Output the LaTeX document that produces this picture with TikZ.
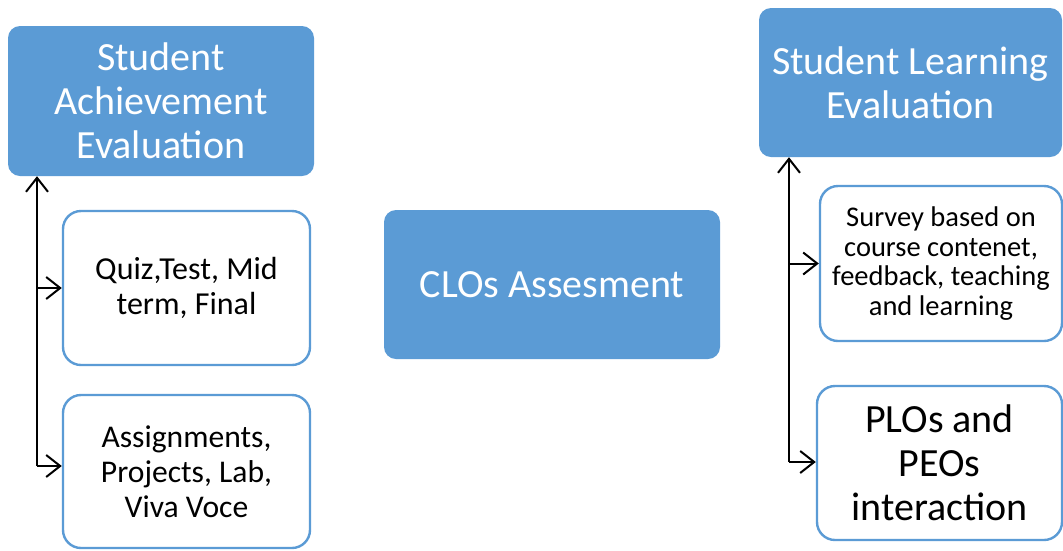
\documentclass[tikz,border=0pt]{standalone}
\usepackage{fontspec}
\setmainfont{Carlito}
\usetikzlibrary{arrows.meta}
\definecolor{boxblue}{HTML}{5B9BD5}
\begin{document}
\begin{tikzpicture}[x=1pt,y=-1pt,
  headbox/.style={fill=boxblue, rounded corners=12pt, text=white, align=center,
    font=\fontsize{40}{44}\selectfont, inner sep=0pt},
  itembox/.style={draw=boxblue, line width=2.4pt, fill=white, rounded corners=18pt,
    align=center, inner sep=0pt},
  arr/.style={-{Straight Barb[length=14pt,width=22pt,line width=2pt]}, line width=2pt}]
\useasboundingbox (0,0) rectangle (1063,550);
\node[headbox, minimum width=306pt, minimum height=150pt] (sae) at (161,101) {Student\\Achievement\\Evaluation};
\node[itembox, minimum width=247pt, minimum height=154pt, font=\fontsize{32}{35}\selectfont] (quiz) at (186.5,288) {Quiz,Test, Mid\\term, Final};
\node[itembox, minimum width=247pt, minimum height=153pt, font=\fontsize{31.6}{35}\selectfont] (assign) at (186.5,471.5) {Assignments,\\Projects, Lab,\\Viva Voce};
\node[headbox, minimum width=336pt, minimum height=149pt] (clos) at (552,284.5) {CLOs Assesment};
\node[headbox, minimum width=303pt, minimum height=149pt] (sle) at (910.5,82.5) {Student Learning\\Evaluation};
\node[itembox, minimum width=242pt, minimum height=155pt, font=\fontsize{28.5}{29.5}\selectfont] (survey) at (941,263.5) {Survey based on\\course contenet,\\feedback, teaching\\and learning};
\node[itembox, minimum width=245pt, minimum height=154pt, font=\fontsize{40}{44}\selectfont] (plos) at (939.5,463) {PLOs and\\PEOs\\interaction};

% left side
\coordinate (lj) at (37,466);
\draw[arr] (lj) -- (lj |- sae.south);
\draw[arr] (lj |- quiz.west) -- (quiz.west);
\draw[arr] (lj) -- (lj -| assign.west);
% right side
\coordinate (rj) at (789,462);
\draw[arr] (rj) -- (rj |- sle.south);
\draw[arr] (rj |- survey.west) -- (survey.west);
\draw[arr] (rj) -- (rj -| plos.west);
\end{tikzpicture}
\end{document}
